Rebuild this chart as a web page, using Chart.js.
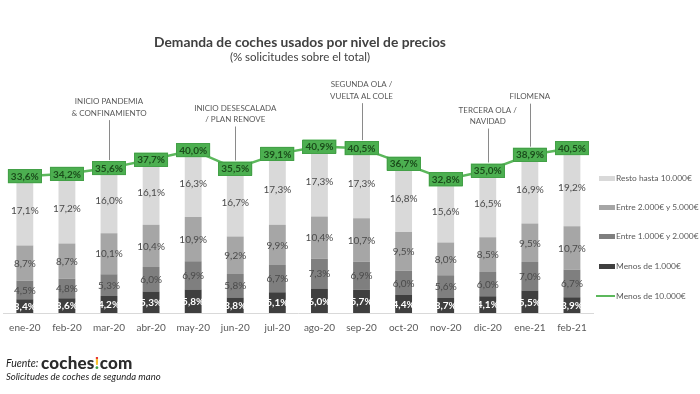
<!DOCTYPE html>
<html><head><meta charset="utf-8">
<script src="https://cdn.jsdelivr.net/npm/chart.js@4.4.1/dist/chart.umd.min.js"></script>
<style>
html,body{margin:0;padding:0;background:#fff;}
#wrap{position:relative;width:700px;height:394px;overflow:hidden;font-family:Lato,"Open Sans",sans-serif;color:#404040;}
#c{position:absolute;left:0;top:0;}
.t{position:absolute;white-space:nowrap;}
#title{left:0;width:600px;text-align:center;top:33px;font-size:13.8px;font-weight:bold;color:#404040;}
#sub{left:0;width:600px;text-align:center;top:50px;font-size:11.5px;color:#404040;}
.lg{position:absolute;left:599px;font-size:8.4px;color:#595959;display:flex;align-items:center;height:12px;white-space:nowrap;}
.sw{width:16px;height:5px;margin-right:1px;flex:none;}
.ln{width:19px;height:2px;background:#5cb85c;margin-left:-3px;margin-right:1px;flex:none;}
#fu{left:6px;top:357px;font-size:10.5px;font-style:italic;color:#222;}
#logo{left:41px;top:352px;font-size:17px;font-weight:900;color:#2b2b2b;letter-spacing:0.2px;}
#logo .ex{background:linear-gradient(#e53935 0%,#e53935 33%,#fbc02d 33%,#fbc02d 60%,#43a047 60%);-webkit-background-clip:text;background-clip:text;color:transparent;}
#sol{left:6px;top:371px;font-size:9.5px;font-style:italic;color:#222;}
</style></head>
<body><div id="wrap">
<canvas id="c" width="700" height="394"></canvas>
<div class="t" id="title">Demanda de coches usados por nivel de precios</div>
<div class="t" id="sub">(% solicitudes sobre el total)</div>
<div id="legend"></div>
<div class="t" id="fu">Fuente:</div>
<div class="t" id="logo">coches<span class="ex">!</span>com</div>
<div class="t" id="sol">Solicitudes de coches de segunda mano</div>
</div>
<script>
const months = ["ene-20","feb-20","mar-20","abr-20","may-20","jun-20","jul-20","ago-20","sep-20","oct-20","nov-20","dic-20","ene-21","feb-21"];
const menos1000 = [3.4,3.6,4.2,5.3,5.8,3.8,5.1,6.0,5.7,4.4,3.7,4.1,5.5,3.9];
const entre1y2 = [4.5,4.8,5.3,6.0,6.9,5.8,6.7,7.3,6.9,6.0,5.6,6.0,7.0,6.7];
const entre2y5 = [8.7,8.7,10.1,10.4,10.9,9.2,9.9,10.4,10.7,9.5,8.0,8.5,9.5,10.7];
const resto = [17.1,17.2,16.0,16.1,16.3,16.7,17.3,17.3,17.3,16.8,15.6,16.5,16.9,19.2];
const menos10000 = [33.6,34.2,35.6,37.7,40.0,35.5,39.1,40.9,40.5,36.7,32.8,35.0,38.9,40.5];
const seriesNames = ["Menos de 1.000€","Entre 1.000€ y 2.000€","Entre 2.000€ y 5.000€","Resto hasta 10.000€","Menos de 10.000€"];
const annotationMonths = ["mar-20","jun-20","sep-20","dic-20","ene-21"];
const annotationTexts = [["INICIO PANDEMIA","& CONFINAMIENTO"],["INICIO DESESCALADA","/ PLAN RENOVE"],["SEGUNDA OLA /","VUELTA AL COLE"],["TERCERA OLA /","NAVIDAD"],["FILOMENA"]];

// styles (kept separate from data)
const barColors = ["#3f3f3f","#7f7f7f","#a6a6a6","#d9d9d9"];
const green = "#5cb85c";
const annotationLift = [50,44,47,44,53];

const fmt = v => v.toFixed(1).replace('.', ',') + '%';

// HTML legend
const legendEl = document.getElementById('legend');
const legendOrder = [3,2,1,0,4];
const legendTops = [172,201,230,260,290];
legendOrder.forEach((si,k)=>{
  const d = document.createElement('div');
  d.className='lg'; d.style.top = legendTops[k]+'px';
  const sw = document.createElement('span');
  if (si===4) { sw.className='ln'; } else { sw.className='sw'; sw.style.background = barColors[si]; }
  d.appendChild(sw);
  const tx = document.createElement('span'); tx.textContent = seriesNames[si];
  d.appendChild(tx);
  legendEl.appendChild(d);
});

const labelPlugin = {
  id:'labels',
  afterDatasetsDraw(chart){
    const ctx = chart.ctx;
    ctx.save();
    ctx.textAlign='center'; ctx.textBaseline='middle';
    for (let di=0; di<4; di++){
      const meta = chart.getDatasetMeta(di);
      meta.data.forEach((el,i)=>{
        const v = chart.data.datasets[di].data[i];
        const y = (el.y + el.base)/2;
        if (di===0){ ctx.fillStyle='#ffffff'; ctx.font='bold 10px Lato, sans-serif'; }
        else { ctx.fillStyle='#4a4a4a'; ctx.font='10px Lato, sans-serif'; }
        ctx.fillText(fmt(v), el.x, y+0.5);
      });
    }
    // annotations
    const xs = chart.scales.x, ys = chart.scales.y;
    ctx.font='8px Lato, sans-serif';
    annotationMonths.forEach((m,k)=>{
      const idx = months.indexOf(m);
      const x = xs.getPixelForValue(idx);
      const py = ys.getPixelForValue(menos10000[idx]);
      const lines = annotationTexts[k];
      const bottom = py - annotationLift[k];
      const lh = 11.5;
      lines.forEach((t,j)=>{
        ctx.fillStyle='#595959';
        ctx.fillText(t, x, bottom - (lines.length-1-j)*lh - 5);
      });
      ctx.strokeStyle='#8a8a8a'; ctx.lineWidth=1;
      ctx.beginPath(); ctx.moveTo(Math.round(x)+0.5, bottom+2); ctx.lineTo(Math.round(x)+0.5, py-8); ctx.stroke();
    });
    // line labels
    const lm = chart.getDatasetMeta(4);
    ctx.font='bold 10px Lato, sans-serif';
    lm.data.forEach((pt,i)=>{
      const t = fmt(menos10000[i]);
      const w = ctx.measureText(t).width + 6, h = 14;
      ctx.fillStyle='#4caf50';
      ctx.fillRect(pt.x - w/2, pt.y - h/2, w, h);
      ctx.strokeStyle='#43a047'; ctx.lineWidth=1;
      ctx.strokeRect(Math.round(pt.x - w/2)+0.5, Math.round(pt.y - h/2)+0.5, Math.round(w)-1, h-1);
      ctx.fillStyle='#1b4d1b';
      ctx.fillText(t, pt.x, pt.y+0.5);
    });
    ctx.restore();
  }
};

const datasets = [menos1000, entre1y2, entre2y5, resto].map((d,i)=>({
  type:'bar', label: seriesNames[i], data: d, backgroundColor: barColors[i],
  stack:'s', yAxisID:'y', barPercentage:0.4, categoryPercentage:1, order:2
}));
datasets.push({type:'line', label: seriesNames[4], data: menos10000, borderColor: green, borderWidth:2.5,
  pointRadius:0, yAxisID:'y2', order:1, tension:0});

new Chart(document.getElementById('c'), {
  data:{ labels: months, datasets },
  options:{
    responsive:false, animation:false, devicePixelRatio:1,
    layout:{ padding:{ left:3, right:107, top:81, bottom:51 } },
    plugins:{ legend:{display:false}, tooltip:{enabled:false}, title:{display:false} },
    scales:{
      x:{ stacked:true, grid:{display:false, drawTicks:false}, border:{display:true, color:'#d9d9d9'},
          ticks:{ color:'#595959', font:{family:'Lato, sans-serif', size:10}, padding:9, maxRotation:0, autoSkip:false } },
      y:{ stacked:true, display:false, min:0, max:57 },
      y2:{ display:false, min:0, max:57 }
    }
  },
  plugins:[labelPlugin]
});
</script>
</body></html>
